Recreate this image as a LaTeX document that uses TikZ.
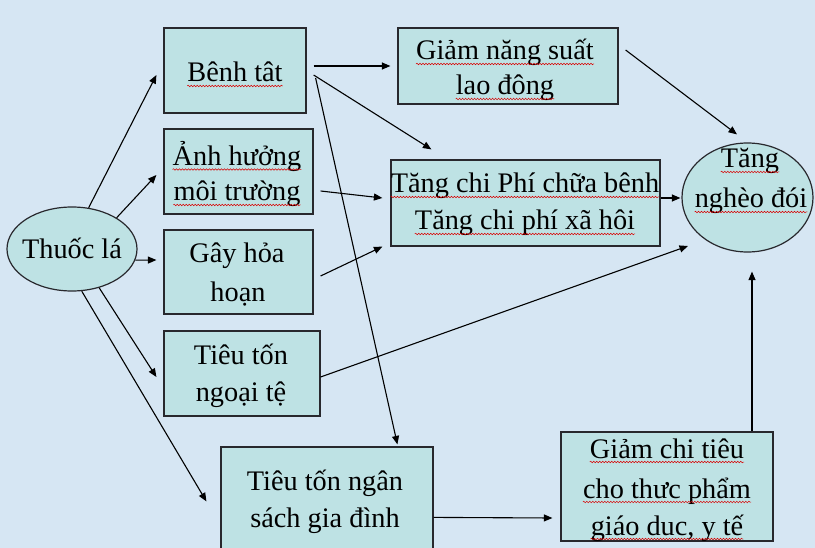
\documentclass[tikz,border=0pt]{standalone}
\usepackage{fontspec}
\setmainfont{Liberation Serif}
\usetikzlibrary{shapes.geometric,arrows.meta,calc,decorations.pathmorphing}
\definecolor{bgc}{RGB}{214,230,243}
\definecolor{boxfill}{RGB}{190,226,228}
\definecolor{edgec}{RGB}{40,40,45}
\begin{document}
\begin{tikzpicture}[x=1pt,y=-1pt,
  boxn/.style={rectangle, draw=edgec, line width=1.2pt, fill=boxfill, inner sep=0pt},
  elln/.style={ellipse, draw=edgec, line width=1.2pt, fill=boxfill, inner sep=0pt},
  txt/.style={font=\fontsize{28.3}{33}\selectfont, inner sep=0pt, anchor=base},
  arr/.style={draw=black, line width=1.1pt, -{Triangle[length=8.5pt,width=7pt]}},
  wavy/.style={draw=red!85!black, line width=0.5pt, decorate, decoration={snake, amplitude=0.8pt, segment length=3pt}}]
\useasboundingbox (0,0) rectangle (815,548);
\clip (0,0) rectangle (815,548);
\fill[bgc] (0,0) rectangle (815,548);

% boxes
\node[boxn, minimum width=142pt, minimum height=85pt] (bt) at (235,70.5) {};
\node[boxn, minimum width=149pt, minimum height=85pt] (ah) at (238.5,171.5) {};
\node[boxn, minimum width=149pt, minimum height=84pt] (gh) at (238.5,272) {};
\node[boxn, minimum width=156pt, minimum height=85pt] (nt) at (242,373.5) {};
\node[boxn, minimum width=212pt, minimum height=113pt] (ns) at (327,503.5) {};
\node[boxn, minimum width=220pt, minimum height=76pt] (gn) at (508,66) {};
\node[boxn, minimum width=269pt, minimum height=86pt] (tc) at (525.5,203) {};
\node[boxn, minimum width=212pt, minimum height=109pt] (gc) at (667,486.5) {};
\node[elln, minimum width=130pt, minimum height=84pt] (tl) at (72,249) {};
\node[elln, minimum width=131pt, minimum height=109pt] (tn) at (747.5,197.5) {};

% texts
\node[txt] (tl1) at (72,259) {Thuốc lá};
\node[txt] (bt1) at (235,82) {Bênh tât};
\node[txt] (ah1) at (237,165.5) {Ảnh hưởng};
\node[txt] (ah2) at (237,201) {môi trường};
\node[txt] (gh1) at (237,263) {Gây hỏa};
\node[txt] (gh2) at (238,301.5) {hoạn};
\node[txt] (nt1) at (241,365) {Tiêu tốn};
\node[txt] (nt2) at (241,402) {ngoại tệ};
\node[txt] (ns1) at (325,490) {Tiêu tốn ngân};
\node[txt] (ns2) at (325,527) {sách gia đình};
\node[txt] (gn1) at (505,60) {Giảm năng suất};
\node[txt] (gn2) at (505,95) {lao đông};
\node[txt] (tc1) at (525,193) {Tăng chi Phí chữa bênh};
\node[txt] (tc2) at (525,230) {Tăng chi phí xã hôi};
\node[txt] (gc1) at (667,458) {Giảm chi tiêu};
\node[txt] (gc2) at (667,498) {cho thưc phẩm};
\node[txt] (gc3) at (667,535) {giáo duc, y tế};
\node[txt] (tn1) at (750,168) {Tăng};
\node[txt] (tn2) at (751,208) {nghèo đói};

% spell-check underlines
\foreach \n in {bt1,ah1,ah2,gn1,gn2,tc1,tc2,gc1,gc2,gc3,tn1,tn2}
  \draw[wavy] ($(\n.base west)+(0,4)$) -- ($(\n.base east)+(0,4)$);

% connectors
\draw[arr] (tl.68) -- ($(bt.west)+(-7,4.5)$);
\draw[arr] (tl.35) -- ($(ah.west)+(-7,3.5)$);
\draw[arr] (tl.-10) -- ($(gh.west)+(-7,-12)$);
\draw[arr] (tl.-55) -- ($(nt.west)+(-7,3.5)$);
\draw[arr] (tl.-77) -- ($(ns.north west)+(-14,55)$);
\draw[arr] ($(bt.east)+(7,-4.5)$) -- ($(gn.west)+(-7,0)$);
\draw[arr] ($(bt.east)+(7,4.5)$) -- ($(tc.north west)+(41,-10)$);
\draw[arr] ($(bt.east)+(9,7.5)$) -- ($(ns.north west)+(177,-2)$);
\draw[arr] ($(ah.east)+(7,19.5)$) -- ($(tc.west)+(-8,-5)$);
\draw[arr] ($(gh.east)+(7,4)$) -- ($(tc.south west)+(-8,0)$);
\draw[arr] ($(gn.east)+(7,-16)$) -- ($(tn.north)+(-10.5,-8)$);
\draw[arr] ($(tc.east)+(0,-5)$) -- ($(tn.west)+(-1,0.5)$);
\draw[arr] ($(nt.east)+(0,3.5)$) -- ($(tn.center)+(-59.5,48.5)$);
\draw[arr] ($(ns.north east)+(0,71)$) -- ($(gc.west)+(-8,31.5)$);
\draw[arr] ($(gc.north)+(85,0)$) -- ($(tn.south)+(4.5,19)$);
\end{tikzpicture}
\end{document}
